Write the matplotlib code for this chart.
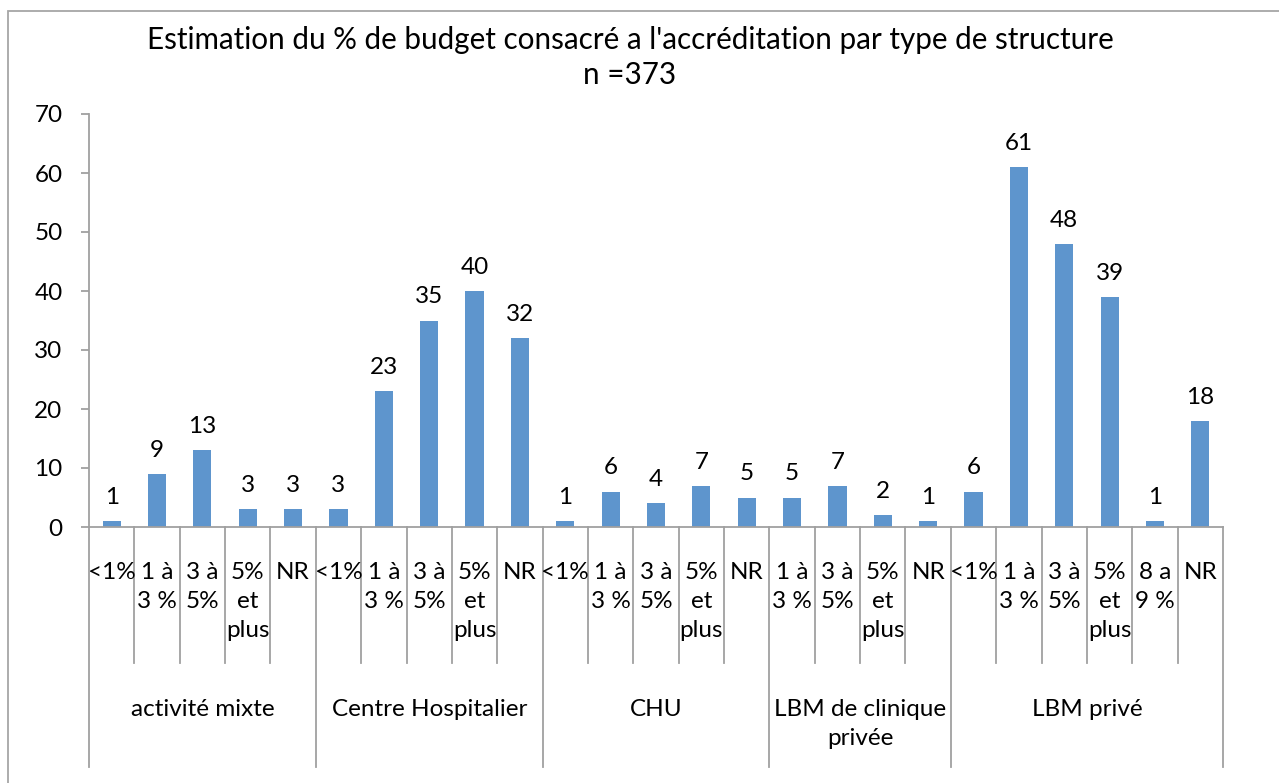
import matplotlib
matplotlib.use("Agg")
import matplotlib.pyplot as plt
from matplotlib.patches import Rectangle

plt.rcParams['font.family'] = ['Lato', 'DejaVu Sans']

# ---- data ----
groups = ["activité mixte", "Centre Hospitalier", "CHU", "LBM de clinique\nprivée", "LBM privé"]
cats_mixte = ["<1%", "1 à\n3 %", "3 à\n5%", "5%\net\nplus", "NR"]
vals_mixte = [1, 9, 13, 3, 3]
cats_ch = ["<1%", "1 à\n3 %", "3 à\n5%", "5%\net\nplus", "NR"]
vals_ch = [3, 23, 35, 40, 32]
cats_chu = ["<1%", "1 à\n3 %", "3 à\n5%", "5%\net\nplus", "NR"]
vals_chu = [1, 6, 4, 7, 5]
cats_clin = ["1 à\n3 %", "3 à\n5%", "5%\net\nplus", "NR"]
vals_clin = [5, 7, 2, 1]
cats_prive = ["<1%", "1 à\n3 %", "3 à\n5%", "5%\net\nplus", "8 a\n9 %", "NR"]
vals_prive = [6, 61, 48, 39, 1, 18]

title = "Estimation du % de budget consacré a l'accréditation par type de structure\nn =373"
yticks = [0, 10, 20, 30, 40, 50, 60, 70]

group_cats = [cats_mixte, cats_ch, cats_chu, cats_clin, cats_prive]
group_vals = [vals_mixte, vals_ch, vals_chu, vals_clin, vals_prive]

cats = [c for g in group_cats for c in g]
vals = [v for g in group_vals for v in g]
x = list(range(len(vals)))

W, H = 1279, 783
fig = plt.figure(figsize=(W / 100, H / 100), dpi=100)
fig.patch.set_facecolor('white')

# chart border (outer frame)
fig.patches.append(Rectangle((8 / W, -0.1), 1.2, 1 - 11 / H + 0.1, transform=fig.transFigure,
                             fill=False, edgecolor='#A6A6A6', linewidth=1.3))

ax_left, ax_right, ax_top, ax_bot = 89, 1223, 114, 527
ax = fig.add_axes([ax_left / W, 1 - ax_bot / H, (ax_right - ax_left) / W, (ax_bot - ax_top) / H])

bar_color = '#5E95CD'
ax.bar(x, vals, width=0.4, color=bar_color, zorder=2)
ax.set_xlim(-0.5, len(vals) - 0.5)
ax.set_ylim(0, 70)
ax.set_yticks(yticks)

fs = 17.5
gray = '#A0A0A0'
for s in ['top', 'right']:
    ax.spines[s].set_visible(False)
ax.spines['left'].set_color(gray)
ax.spines['bottom'].set_color(gray)
ax.spines['left'].set_linewidth(1.3)
ax.spines['bottom'].set_linewidth(1.3)
ax.tick_params(axis='y', direction='out', length=6, width=1.3, color=gray,
               labelsize=fs, pad=13, labelcolor='black')
ax.tick_params(axis='x', length=0, labelbottom=False)

# data labels
for xi, v in zip(x, vals):
    ax.annotate(str(v), (xi, v), xytext=(0, 17), textcoords='offset points',
                ha='center', va='center', fontsize=fs)

axh = ax_bot - ax_top
def fy(ypx):
    return (ax_bot - ypx) / axh

tr = ax.get_xaxis_transform()
# category labels
for xi, c in zip(x, cats):
    ax.text(xi, fy(562), c, transform=tr, ha='center', va='top', fontsize=fs,
            linespacing=1.47, clip_on=False)

# separators
inner_bottom = fy(663)
outer_bottom = fy(767)
start = 0
boundaries = [-0.5]
for gc in group_cats:
    start += len(gc)
    boundaries.append(start - 0.5)
for b in range(len(vals) + 1):
    xb = b - 0.5
    yb = outer_bottom if xb in boundaries else inner_bottom
    ax.plot([xb, xb], [0, yb], transform=tr, color=gray, lw=1.3, clip_on=False)

# group labels
for i, g in enumerate(groups):
    cx = (boundaries[i] + boundaries[i + 1]) / 2
    ax.text(cx, fy(699), g, transform=tr, ha='center', va='top', fontsize=fs,
            linespacing=1.47, clip_on=False)

fig.text(630 / W, 1 - 26 / H, title, ha='center', va='top', fontsize=21.3, linespacing=1.3)

fig.savefig('out.png', dpi=100)
